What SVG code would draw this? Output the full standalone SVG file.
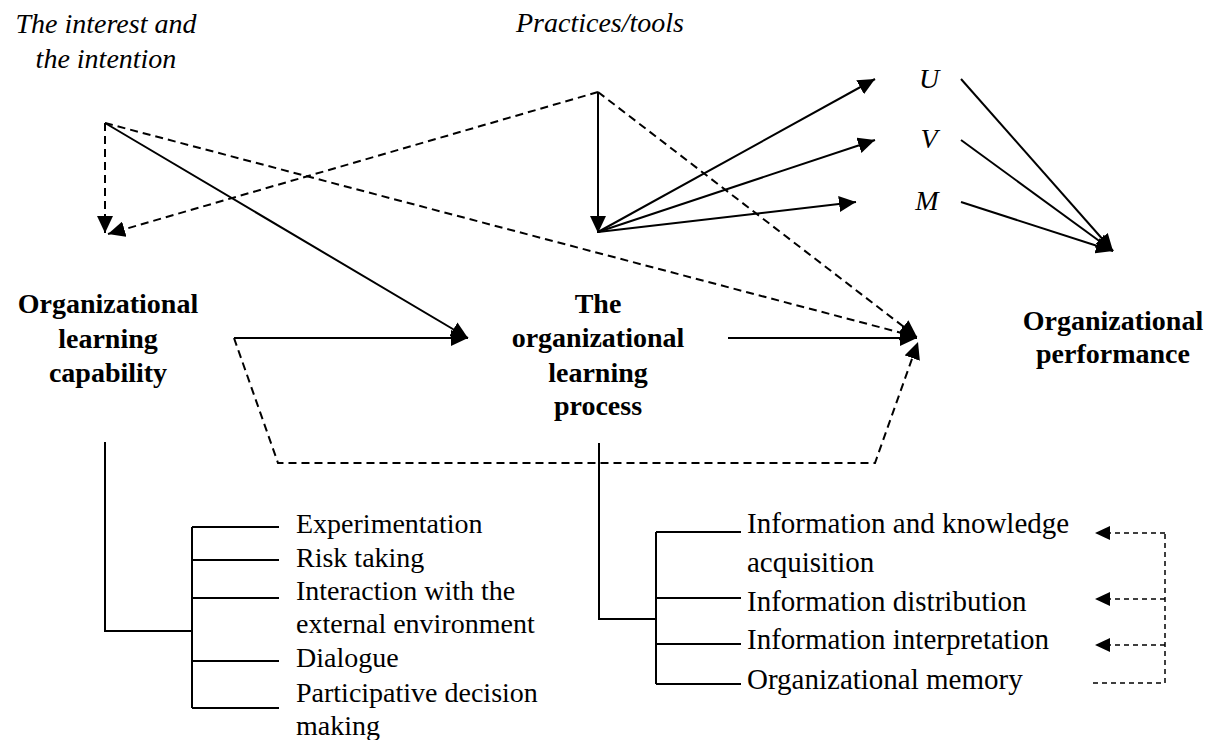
<svg xmlns="http://www.w3.org/2000/svg" width="1217" height="740" viewBox="0 0 1217 740">
  <style>
    text { font-family: 'Liberation Serif', 'DejaVu Serif', serif; fill: #000; }
    .it { font-style: italic; font-size: 28px; }
    .bold { font-weight: bold; font-size: 28px; }
    .item { font-size: 28px; }
    .item2 { font-size: 29px; }
    .var { font-style: italic; font-size: 28px; }
    .solid { stroke: #000; stroke-width: 2; fill: none; }
    .dash { stroke: #000; stroke-width: 2; fill: none; stroke-dasharray: 8 5; }
    .fine { stroke: #000; stroke-width: 1.5; fill: none; stroke-dasharray: 5 4; }
    .arr { marker-end: url(#head); }
    .arrs { marker-end: url(#headSmall); }
  </style>
  <defs>
    <marker id="head" markerUnits="userSpaceOnUse" markerWidth="18" markerHeight="16" refX="17" refY="8" orient="auto">
      <path d="M0,0 L17,8 L0,16 z" fill="#000"/>
    </marker>
    <marker id="headSmall" markerUnits="userSpaceOnUse" markerWidth="16" markerHeight="14" refX="15" refY="7" orient="auto">
      <path d="M0,0 L15,7 L0,14 z" fill="#000"/>
    </marker>
  </defs>

  <!-- node labels -->
  <g id="interest" font-family="Liberation Serif, serif">
    <text class="it" x="106" y="33" text-anchor="middle">The interest and</text>
    <text class="it" x="106" y="68" text-anchor="middle">the intention</text>
  </g>
  <g id="practices" font-family="Liberation Serif, serif">
    <text class="it" x="600" y="32" text-anchor="middle">Practices/tools</text>
  </g>
  <g id="u" font-family="Liberation Serif, serif">
    <text class="var" x="929" y="88" text-anchor="middle">U</text>
  </g>
  <g id="v" font-family="Liberation Serif, serif">
    <text class="var" x="929" y="148" text-anchor="middle">V</text>
  </g>
  <g id="m" font-family="Liberation Serif, serif">
    <text class="var" x="927" y="210" text-anchor="middle">M</text>
  </g>
  <g id="capability" font-family="Liberation Serif, serif">
    <text class="bold" x="108" y="313" text-anchor="middle">Organizational</text>
    <text class="bold" x="108" y="348" text-anchor="middle">learning</text>
    <text class="bold" x="108" y="382" text-anchor="middle">capability</text>
  </g>
  <g id="process" font-family="Liberation Serif, serif">
    <text class="bold" x="598" y="313" text-anchor="middle">The</text>
    <text class="bold" x="598" y="347" text-anchor="middle">organizational</text>
    <text class="bold" x="598" y="382" text-anchor="middle">learning</text>
    <text class="bold" x="598" y="415" text-anchor="middle">process</text>
  </g>
  <g id="performance" font-family="Liberation Serif, serif">
    <text class="bold" x="1113" y="330" text-anchor="middle">Organizational</text>
    <text class="bold" x="1113" y="363" text-anchor="middle">performance</text>
  </g>

  <!-- dimensions of learning capability -->
  <g id="capability-dimensions" font-family="Liberation Serif, serif">
    <text class="item" x="296" y="533">Experimentation</text>
    <text class="item" x="296" y="567">Risk taking</text>
    <text class="item" x="296" y="600">Interaction with the</text>
    <text class="item" x="296" y="633">external environment</text>
    <text class="item" x="296" y="667">Dialogue</text>
    <text class="item" x="296" y="702">Participative decision</text>
    <text class="item" x="296" y="735">making</text>
  </g>

  <!-- stages of the learning process -->
  <g id="process-stages" font-family="Liberation Serif, serif">
    <text class="item2" x="747" y="533">Information and knowledge</text>
    <text class="item2" x="747" y="572">acquisition</text>
    <text class="item2" x="747" y="611">Information distribution</text>
    <text class="item2" x="747" y="649">Information interpretation</text>
    <text class="item2" x="747" y="689">Organizational memory</text>
  </g>

  <g id="connectors">
    <!-- from the interest and intention -->
    <path class="dash arr" d="M105,123 L105,233"/>
    <path class="solid arr" d="M105,123 L468,338"/>
    <path class="dash arr" d="M105,123 L917,337"/>

    <!-- from practices/tools -->
    <path class="dash arr" d="M598,92 L108,234"/>
    <path class="solid arr" d="M598,92 L598,233"/>
    <path class="dash arr" d="M598,92 L917,337"/>

    <!-- fan out to U, V, M -->
    <path class="solid arr" d="M598,232 L875,79"/>
    <path class="solid arr" d="M598,232 L875,140"/>
    <path class="solid arr" d="M598,232 L856,202"/>

    <!-- U, V, M into performance -->
    <path class="solid arr" d="M961,79 L1113,251"/>
    <path class="solid arr" d="M961,140 L1113,251"/>
    <path class="solid arr" d="M961,202 L1113,251"/>

    <!-- main chain -->
    <path class="solid arr" d="M234,338 L468,338"/>
    <path class="solid arr" d="M728,338 L917,338"/>
    <path class="dash arr" d="M234,338 L278,463 L875,463 L918,342"/>

    <!-- capability tree -->
    <path class="solid" d="M105,442 L105,631 L192,631"/>
    <path class="solid" d="M192,527 L192,708"/>
    <path class="solid" d="M192,527 H279 M192,560 H279 M192,598 H279 M192,661 H279 M192,708 H279"/>

    <!-- process tree -->
    <path class="solid" d="M599,443 L599,619 L656,619"/>
    <path class="solid" d="M656,532 L656,684"/>
    <path class="solid" d="M656,532 H741 M656,598 H741 M656,644 H741 M656,684 H741"/>

    <!-- memory feedback bracket -->
    <path class="fine" d="M1093,683 L1165,683 L1165,533"/>
    <path class="fine arrs" d="M1165,533 L1095,533"/>
    <path class="fine arrs" d="M1165,599 L1095,599"/>
    <path class="fine arrs" d="M1165,645 L1095,645"/>
  </g>
</svg>
